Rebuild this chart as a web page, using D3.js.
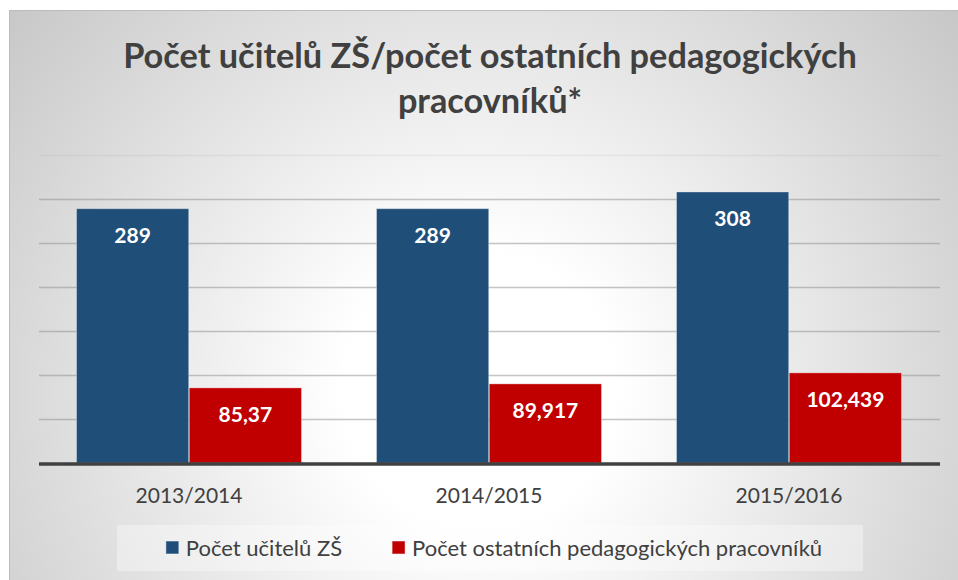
<!DOCTYPE html>
<html>
<head>
<meta charset="utf-8">
<script src="https://cdn.jsdelivr.net/npm/d3@7"></script>
<style>
  body { margin: 0; background: #fff; }
  svg { display: block; font-family: Lato, "Open Sans", sans-serif; }
</style>
</head>
<body>
<svg id="chart"></svg>
<script>
const years = ["2013/2014", "2014/2015", "2015/2016"];
const seriesNames = ["Počet učitelů ZŠ", "Počet ostatních pedagogických pracovníků"];
const teachers = [289, 289, 308];
const otherStaff = [85.37, 89.917, 102.439];
const valueLabels = [["289", "289", "308"], ["85,37", "89,917", "102,439"]];
const gridValues = [50, 100, 150, 200, 250, 300, 350];
const titleLines = ["Počet učitelů ZŠ/počet ostatních pedagogických", "pracovníků*"];

const totalWidth = 958;
const totalHeight = 580;
const colors = ["#1f4e79", "#c00000"];
const textColor = "#404040";

const svg = d3.select("#chart")
  .attr("width", totalWidth)
  .attr("height", totalHeight);

// background gradient like the office chart
const defs = svg.append("defs");
const grad = defs.append("radialGradient")
  .attr("id", "bg")
  .attr("gradientUnits", "userSpaceOnUse")
  .attr("cx", 480).attr("cy", 390).attr("r", 620);
grad.append("stop").attr("offset", 0).attr("stop-color", "#ffffff");
grad.append("stop").attr("offset", 0.22).attr("stop-color", "#ffffff");
grad.append("stop").attr("offset", 1).attr("stop-color", "#c6c6c6");

svg.append("rect")
  .attr("x", 9.5).attr("y", 10.5)
  .attr("width", 960).attr("height", 580)
  .style("fill", "url(#bg)")
  .style("stroke", "#bcbcbc");

// title
const title = svg.append("g");
titleLines.forEach((line, i) => {
  title.append("text")
    .attr("x", 490)
    .attr("y", 68 + i * 45)
    .attr("text-anchor", "middle")
    .text(line)
    .style("font-weight", "bold")
    .style("font-size", "30px")
    .style("fill", textColor);
});
// fit the first line to the width seen in the picture
const firstLine = title.select("text").node();
const fitSize = 30 * 734 / firstLine.getComputedTextLength();
title.selectAll("text").style("font-size", fitSize + "px");

const xScale = d3.scaleBand()
  .domain(years)
  .range([39, 939])
  .paddingInner(0.25)
  .paddingOuter(0.125);

const x1 = d3.scaleBand()
  .domain(d3.range(seriesNames.length))
  .range([0, xScale.bandwidth()])
  .paddingInner(0.005);

const yScale = d3.scaleLinear()
  .domain([0, 350])
  .range([463, 155]);

// gridlines
svg.append("g")
  .selectAll("line")
  .data(gridValues)
  .enter().append("line")
  .attr("x1", 39).attr("x2", 940)
  .attr("y1", d => Math.round(yScale(d)) + 0.5)
  .attr("y2", d => Math.round(yScale(d)) + 0.5)
  .style("stroke", "#8c8c8c")
  .style("stroke-width", 1.5)
  .style("stroke-opacity", (d, i) => i === gridValues.length - 1 ? 0.12 : 0.5);

const seriesData = [teachers, otherStaff];

const groups = svg.append("g")
  .selectAll("g")
  .data(seriesData)
  .enter().append("g");

groups.each(function (values, s) {
  const g = d3.select(this);
  g.selectAll("rect")
    .data(values)
    .enter().append("rect")
    .attr("x", (d, i) => xScale(years[i]) + x1(s))
    .attr("y", d => yScale(d))
    .attr("width", x1.bandwidth())
    .attr("height", d => yScale(0) - yScale(d))
    .style("fill", colors[s])
    .style("stroke", "#ffffff")
    .style("stroke-opacity", 0.35)
    .style("stroke-width", 1);

  g.selectAll("text")
    .data(values)
    .enter().append("text")
    .attr("x", (d, i) => xScale(years[i]) + x1(s) + x1.bandwidth() / 2)
    .attr("y", d => yScale(d) + 34)
    .attr("text-anchor", "middle")
    .text((d, i) => valueLabels[s][i])
    .style("font-weight", "bold")
    .style("font-size", "21px")
    .style("fill", "#ffffff");
});

// baseline
svg.append("line")
  .attr("x1", 39).attr("x2", 940)
  .attr("y1", yScale(0) + 1).attr("y2", yScale(0) + 1)
  .style("stroke", "#404040")
  .style("stroke-width", 3.5);

// category labels
svg.append("g")
  .selectAll("text")
  .data(years)
  .enter().append("text")
  .attr("x", d => xScale(d) + xScale.bandwidth() / 2)
  .attr("y", 503)
  .attr("text-anchor", "middle")
  .text(d => d)
  .style("font-size", "21px")
  .style("fill", textColor);

// legend
svg.append("rect")
  .attr("x", 117).attr("y", 525)
  .attr("width", 746).attr("height", 46)
  .style("fill", "#ffffff")
  .style("fill-opacity", 0.35);

const legend = svg.append("g");
const items = legend.selectAll("g")
  .data(seriesNames)
  .enter().append("g");
items.append("rect")
  .attr("width", 13).attr("height", 13)
  .attr("y", 541)
  .style("fill", (d, i) => colors[i])
  .style("stroke", "#ffffff")
  .style("stroke-opacity", 0.5);
items.append("text")
  .attr("x", 20)
  .attr("y", 556)
  .text(d => d)
  .style("font-size", "22px")
  .style("fill", textColor);

const widths = [];
items.each(function () { widths.push(this.getBBox().width); });
const gap = 50;
const legendWidth = d3.sum(widths) + gap * (widths.length - 1);
let lx = 494 - legendWidth / 2;
items.each(function (d, i) {
  d3.select(this).attr("transform", `translate(${lx},0)`);
  lx += widths[i] + gap;
});
</script>
</body>
</html>
